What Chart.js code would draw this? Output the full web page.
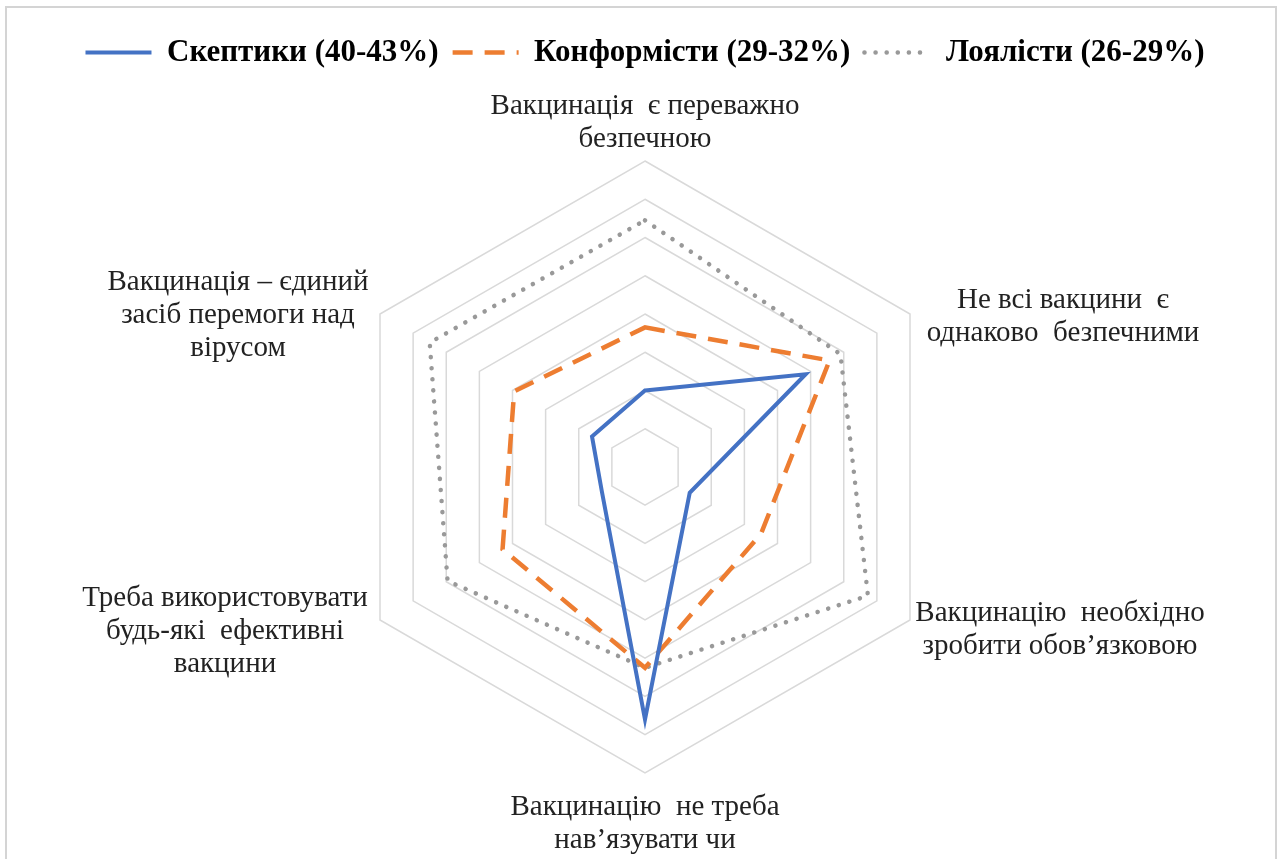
<!DOCTYPE html>
<html>
<head>
<meta charset="utf-8">
<script src="https://cdn.jsdelivr.net/npm/chart.js@4"></script>
<style>
  html, body { margin: 0; padding: 0; background: #fff; }
  #wrap { width: 1280px; height: 859px; }
</style>
</head>
<body>
<div id="wrap"><canvas id="radar"></canvas></div>
<script>
var labels = [
    ['Вакцинація  є переважно', 'безпечною'],
    ['Не всі вакцини  є', 'однаково  безпечними'],
    ['Вакцинацію  необхідно', 'зробити обов’язковою'],
    ['Вакцинацію  не треба', 'нав’язувати чи'],
    ['Треба використовувати', 'будь-які  ефективні', 'вакцини'],
    ['Вакцинація – єдиний', 'засіб перемоги над', 'вірусом']
];
var skeptics = [2.0, 4.85, 1.35, 6.6, 1.3, 1.6];
var conformists = [3.65, 5.57, 3.5, 5.25, 4.3, 3.95];
var loyalists = [6.45, 5.9, 6.73, 5.25, 5.96, 6.5];

// label centre offsets from the outer vertex
var labelOffsets = [[0, -38], [153, 3], [150, 10], [0, 51], [-155, 11], [-142, 1]];

var frame = {
    id: 'frame',
    beforeDraw: function(chart) {
        var c = chart.ctx;
        c.save();
        c.strokeStyle = '#d4d4d4';
        c.lineWidth = 2;
        c.strokeRect(6, 7, 1270, 900);
        c.restore();
    }
};

// leave a gap under the legend, like the original
var legendGap = {
    id: 'legendGap',
    beforeLayout: function(chart) {
        var lg = chart.legend;
        if (!lg || lg._gapPatched) return;
        var fit = lg.fit;
        lg.fit = function() {
            fit.call(this);
            this.height += 83;
        };
        lg._gapPatched = true;
    }
};

var pointText = {
    id: 'pointText',
    afterDraw: function(chart) {
        var scale = chart.scales.r;
        var c = chart.ctx;
        c.save();
        c.font = '29px "Liberation Serif", "Times New Roman", serif';
        c.fillStyle = '#222';
        c.textAlign = 'center';
        c.textBaseline = 'middle';
        var lh = 33;
        labels.forEach(function(lines, i) {
            var p = scale.getPointPosition(i, scale.drawingArea);
            var cx = p.x + labelOffsets[i][0];
            var cy = p.y + labelOffsets[i][1];
            var y0 = cy - (lines.length - 1) * lh / 2;
            lines.forEach(function(t, k) {
                c.fillText(t, cx, y0 + k * lh);
            });
        });
        c.restore();
    }
};

var ctx = document.getElementById('radar').getContext('2d');
var myChart = new Chart(ctx, {
    type: 'radar',
    data: {
        labels: labels,
        datasets: [{
            label: 'Скептики (40-43%)',
            data: skeptics,
            borderColor: '#4472C4',
            borderWidth: 4,
            fill: false
        },
        {
            label: 'Конформісти (29-32%)',
            data: conformists,
            borderColor: '#ED7D31',
            borderWidth: 4.5,
            borderDash: [20, 12],
            fill: false
        },
        {
            label: 'Лоялісти (26-29%)',
            data: loyalists,
            borderColor: '#999999',
            borderWidth: 4.5,
            borderDash: [0.1, 11],
            borderCapStyle: 'round',
            fill: false
        }]
    },
    options: {
        responsive: true,
        maintainAspectRatio: false,
        animation: false,
        layout: { padding: { left: 10, right: 0, top: 23, bottom: 86 } },
        elements: {
            point: { radius: 0, hoverRadius: 0 },
            line: { tension: 0, borderJoinStyle: 'miter' }
        },
        plugins: {
            tooltip: { enabled: false },
            legend: {
                position: 'top',
                labels: {
                    usePointStyle: true,
                    pointStyle: 'line',
                    pointStyleWidth: 66,
                    padding: 14,
                    color: '#000',
                    font: { family: '"Liberation Serif", "Times New Roman", serif', size: 31, weight: 'bold' },
                    generateLabels: function(chart) {
                        return chart.data.datasets.map(function(ds, i) {
                            return {
                                text: ds.label,
                                datasetIndex: i,
                                fillStyle: ds.borderColor,
                                strokeStyle: ds.borderColor,
                                lineWidth: ds.borderWidth,
                                lineDash: ds.borderDash || [],
                                lineCap: ds.borderCapStyle || 'butt',
                                pointStyle: 'line',
                                fontColor: '#000',
                                hidden: false
                            };
                        });
                    }
                }
            }
        },
        scales: {
            r: {
                min: 0,
                max: 8,
                ticks: { display: false, stepSize: 1 },
                grid: { color: '#d9d9d9', lineWidth: 1.5 },
                angleLines: { display: false },
                pointLabels: { display: false }
            }
        }
    },
    plugins: [frame, legendGap, pointText]
});
</script>
</body>
</html>
